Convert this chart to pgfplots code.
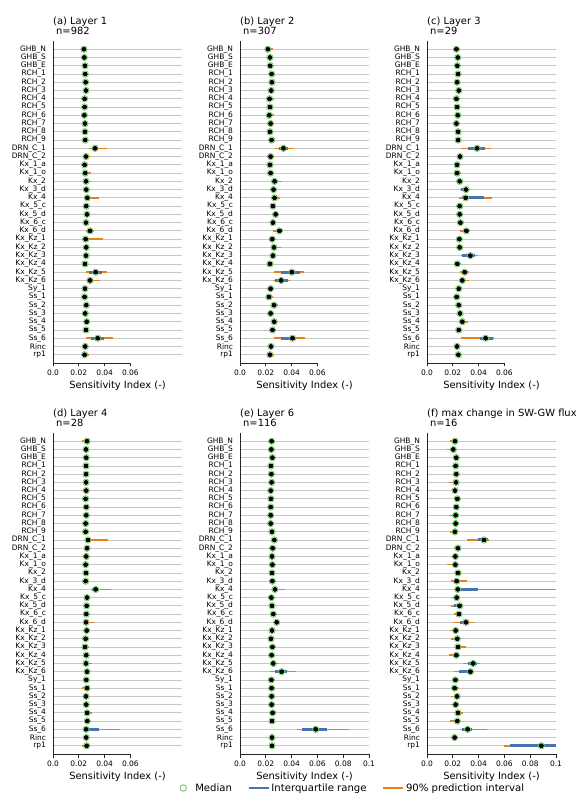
\documentclass[border=0pt]{standalone}
\usepackage{fontspec}
\setmainfont{DejaVu Sans}
\usepackage{pgfplots}
\usepackage{pgfplotstable}
\pgfplotsset{compat=1.18}
\definecolor{cOr}{RGB}{232,128,20}
\definecolor{cBl}{RGB}{72,114,176}
\definecolor{cGr}{RGB}{112,196,102}

\pgfplotstableread{
i med q25 q75 p05 p95
37 .0240 .0236 .0244 .0218 .0250
36 .0243 .0240 .0246 .0236 .0250
35 .0248 .0245 .0251 .0240 .0256
34 .0250 .0247 .0253 .0243 .0257
33 .0253 .0250 .0256 .0246 .0260
32 .0256 .0253 .0259 .0249 .0262
31 .0245 .0242 .0248 .0238 .0252
30 .0245 .0242 .0248 .0238 .0252
29 .0243 .0240 .0246 .0236 .0250
28 .0248 .0245 .0251 .0241 .0255
27 .0248 .0245 .0251 .0241 .0255
26 .0250 .0247 .0253 .0243 .0257
25 .0326 .0305 .0347 .0282 .0418
24 .0256 .0250 .0263 .0230 .0292
23 .0245 .0242 .0249 .0230 .0258
22 .0250 .0246 .0255 .0230 .0295
21 .0256 .0251 .0261 .0240 .0298
20 .0258 .0255 .0261 .0250 .0265
19 .0266 .0258 .0276 .0248 .0360
18 .0258 .0255 .0261 .0251 .0265
17 .0264 .0261 .0267 .0257 .0271
16 .0256 .0253 .0259 .0249 .0263
15 .0287 .0270 .0302 .0256 .0321
14 .0253 .0248 .0258 .0235 .0389
13 .0258 .0255 .0261 .0251 .0265
12 .0256 .0253 .0259 .0249 .0263
11 .0248 .0244 .0252 .0233 .0258
10 .0331 .0279 .0381 .0253 .0418
9 .0287 .0266 .0313 .0256 .0365
8 .0248 .0245 .0251 .0241 .0255
7 .0245 .0241 .0249 .0228 .0258
6 .0258 .0255 .0261 .0251 .0265
5 .0250 .0247 .0253 .0243 .0257
4 .0261 .0257 .0266 .0245 .0282
3 .0256 .0253 .0259 .0249 .0263
2 .0347 .0292 .0392 .0256 .0462
1 .0250 .0247 .0253 .0243 .0257
0 .0245 .0240 .0250 .0224 .0279
}\tA
\pgfplotstableread{
i med q25 q75 p05 p95
37 .0216 .0210 .0238 .0201 .0258
36 .0232 .0228 .0238 .0217 .0258
35 .0234 .0230 .0239 .0221 .0252
34 .0245 .0242 .0248 .0238 .0252
33 .0247 .0244 .0250 .0240 .0254
32 .0242 .0239 .0245 .0235 .0249
31 .0229 .0224 .0236 .0211 .0265
30 .0232 .0228 .0237 .0216 .0258
29 .0227 .0222 .0234 .0209 .0260
28 .0237 .0234 .0240 .0230 .0244
27 .0232 .0228 .0237 .0216 .0258
26 .0245 .0242 .0248 .0238 .0252
25 .0337 .0304 .0373 .0273 .0422
24 .0237 .0231 .0244 .0214 .0268
23 .0232 .0228 .0237 .0216 .0258
22 .0237 .0233 .0241 .0221 .0258
21 .0268 .0254 .0289 .0245 .0324
20 .0260 .0256 .0264 .0250 .0268
19 .0268 .0262 .0276 .0247 .0309
18 .0255 .0252 .0258 .0248 .0262
17 .0276 .0273 .0279 .0269 .0283
16 .0255 .0252 .0258 .0248 .0262
15 .0306 .0289 .0325 .0258 .0330
14 .0250 .0245 .0255 .0227 .0273
13 .0263 .0255 .0275 .0245 .0314
12 .0255 .0250 .0260 .0240 .0273
11 .0232 .0228 .0238 .0219 .0253
10 .0402 .0314 .0463 .0263 .0494
9 .0319 .0273 .0371 .0258 .0391
8 .0237 .0233 .0241 .0221 .0258
7 .0224 .0219 .0232 .0206 .0258
6 .0263 .0257 .0268 .0245 .0294
5 .0237 .0232 .0243 .0219 .0263
4 .0265 .0260 .0270 .0247 .0288
3 .0252 .0249 .0255 .0245 .0259
2 .0407 .0314 .0433 .0263 .0500
1 .0240 .0237 .0243 .0233 .0247
0 .0232 .0227 .0238 .0214 .0263
}\tB
\pgfplotstableread{
i med q25 q75 p05 p95
37 .0228 .0224 .0232 .0212 .0258
36 .0238 .0235 .0241 .0231 .0245
35 .0235 .0232 .0238 .0228 .0242
34 .0241 .0238 .0244 .0234 .0248
33 .0233 .0229 .0238 .0217 .0258
32 .0246 .0243 .0249 .0239 .0253
31 .0228 .0224 .0233 .0212 .0258
30 .0233 .0222 .0249 .0217 .0258
29 .0238 .0234 .0242 .0228 .0248
28 .0228 .0224 .0233 .0212 .0258
27 .0241 .0238 .0244 .0234 .0250
26 .0241 .0238 .0244 .0234 .0250
25 .0388 .0318 .0453 .0266 .0497
24 .0256 .0250 .0262 .0230 .0274
23 .0233 .0230 .0236 .0226 .0240
22 .0233 .0228 .0238 .0207 .0262
21 .0253 .0249 .0257 .0243 .0262
20 .0303 .0266 .0318 .0253 .0331
19 .0300 .0269 .0440 .0248 .0504
18 .0253 .0250 .0256 .0246 .0260
17 .0253 .0250 .0256 .0246 .0260
16 .0259 .0256 .0262 .0252 .0266
15 .0305 .0284 .0323 .0259 .0336
14 .0251 .0248 .0254 .0244 .0258
13 .0253 .0250 .0256 .0246 .0260
12 .0336 .0274 .0372 .0264 .0396
11 .0235 .0230 .0240 .0220 .0258
10 .0292 .0274 .0310 .0259 .0326
9 .0274 .0259 .0290 .0259 .0326
8 .0246 .0243 .0249 .0239 .0253
7 .0230 .0225 .0236 .0212 .0258
6 .0246 .0243 .0249 .0239 .0253
5 .0256 .0253 .0259 .0249 .0263
4 .0274 .0268 .0282 .0259 .0315
3 .0246 .0242 .0250 .0236 .0254
2 .0455 .0409 .0512 .0266 .0517
1 .0233 .0229 .0237 .0224 .0242
0 .0243 .0240 .0246 .0236 .0250
}\tC
\pgfplotstableread{
i med q25 q75 p05 p95
37 .0264 .0253 .0266 .0224 .0266
36 .0256 .0253 .0259 .0249 .0263
35 .0258 .0252 .0262 .0227 .0263
34 .0256 .0253 .0259 .0249 .0263
33 .0256 .0253 .0259 .0249 .0263
32 .0256 .0253 .0259 .0249 .0263
31 .0258 .0252 .0262 .0219 .0263
30 .0253 .0250 .0258 .0230 .0262
29 .0258 .0253 .0261 .0230 .0263
28 .0258 .0253 .0261 .0230 .0263
27 .0253 .0250 .0256 .0235 .0258
26 .0253 .0250 .0256 .0230 .0258
25 .0271 .0264 .0280 .0262 .0425
24 .0264 .0261 .0267 .0257 .0271
23 .0258 .0252 .0262 .0227 .0263
22 .0253 .0250 .0256 .0246 .0260
21 .0256 .0253 .0259 .0249 .0263
20 .0253 .0250 .0256 .0246 .0260
19 .0331 .0300 .0360 .0295 .0449
18 .0264 .0261 .0267 .0257 .0271
17 .0261 .0258 .0264 .0254 .0268
16 .0258 .0255 .0261 .0251 .0265
15 .0256 .0253 .0262 .0250 .0318
14 .0261 .0258 .0264 .0254 .0268
13 .0253 .0250 .0256 .0246 .0260
12 .0248 .0243 .0266 .0235 .0282
11 .0258 .0255 .0261 .0251 .0265
10 .0256 .0253 .0262 .0250 .0303
9 .0264 .0260 .0268 .0255 .0287
8 .0258 .0255 .0261 .0251 .0265
7 .0264 .0255 .0266 .0227 .0268
6 .0256 .0252 .0260 .0235 .0263
5 .0258 .0255 .0261 .0251 .0265
4 .0264 .0260 .0270 .0257 .0300
3 .0266 .0263 .0269 .0259 .0273
2 .0256 .0256 .0358 .0250 .0522
1 .0258 .0255 .0261 .0251 .0265
0 .0261 .0255 .0264 .0227 .0266
}\tD
\pgfplotstableread{
i med q25 q75 p05 p95
37 .0245 .0242 .0248 .0238 .0252
36 .0243 .0240 .0246 .0236 .0250
35 .0251 .0245 .0254 .0240 .0256
34 .0240 .0237 .0243 .0233 .0247
33 .0243 .0240 .0246 .0236 .0250
32 .0245 .0242 .0248 .0238 .0252
31 .0238 .0235 .0241 .0231 .0245
30 .0240 .0237 .0243 .0233 .0247
29 .0238 .0235 .0241 .0231 .0245
28 .0238 .0235 .0241 .0231 .0245
27 .0238 .0234 .0242 .0220 .0248
26 .0248 .0245 .0251 .0241 .0255
25 .0266 .0262 .0270 .0253 .0279
24 .0253 .0247 .0258 .0228 .0279
23 .0248 .0244 .0252 .0233 .0263
22 .0251 .0246 .0254 .0228 .0263
21 .0248 .0245 .0251 .0241 .0255
20 .0251 .0248 .0254 .0244 .0258
19 .0271 .0258 .0289 .0258 .0349
18 .0243 .0240 .0246 .0236 .0250
17 .0248 .0245 .0251 .0241 .0255
16 .0258 .0255 .0261 .0251 .0265
15 .0284 .0276 .0292 .0256 .0300
14 .0248 .0245 .0251 .0241 .0255
13 .0240 .0236 .0245 .0228 .0258
12 .0251 .0248 .0254 .0244 .0258
11 .0245 .0242 .0248 .0238 .0252
10 .0258 .0252 .0264 .0245 .0300
9 .0323 .0274 .0364 .0233 .0434
8 .0243 .0240 .0246 .0236 .0250
7 .0245 .0242 .0248 .0238 .0252
6 .0245 .0242 .0248 .0238 .0252
5 .0245 .0242 .0248 .0238 .0252
4 .0253 .0250 .0256 .0246 .0260
3 .0248 .0245 .0251 .0241 .0255
2 .0587 .0481 .0677 .0444 .0845
1 .0248 .0245 .0251 .0241 .0255
0 .0248 .0245 .0251 .0241 .0255
}\tE
\pgfplotstableread{
i med q25 q75 p05 p95
37 .0217 .0202 .0233 .0181 .0238
36 .0204 .0195 .0213 .0158 .0227
35 .0227 .0220 .0233 .0202 .0243
34 .0222 .0215 .0228 .0202 .0238
33 .0227 .0223 .0231 .0215 .0238
32 .0225 .0207 .0243 .0173 .0243
31 .0217 .0212 .0222 .0202 .0233
30 .0235 .0217 .0253 .0207 .0253
29 .0227 .0220 .0234 .0207 .0243
28 .0222 .0215 .0229 .0173 .0238
27 .0222 .0217 .0227 .0207 .0233
26 .0217 .0210 .0224 .0181 .0233
25 .0442 .0393 .0470 .0310 .0478
24 .0240 .0232 .0248 .0207 .0253
23 .0220 .0213 .0227 .0189 .0238
22 .0220 .0210 .0230 .0155 .0243
21 .0240 .0233 .0248 .0217 .0264
20 .0230 .0212 .0248 .0186 .0310
19 .0238 .0238 .0398 .0227 .1000
18 .0230 .0222 .0238 .0186 .0243
17 .0253 .0212 .0269 .0189 .0269
16 .0248 .0238 .0258 .0207 .0264
15 .0302 .0258 .0326 .0207 .0367
14 .0222 .0215 .0230 .0181 .0243
13 .0235 .0225 .0243 .0189 .0248
12 .0240 .0230 .0250 .0225 .0300
11 .0227 .0207 .0248 .0168 .0248
10 .0357 .0315 .0388 .0276 .0413
9 .0336 .0248 .0357 .0212 .0357
8 .0220 .0215 .0225 .0207 .0230
7 .0214 .0202 .0243 .0196 .0248
6 .0233 .0220 .0243 .0186 .0248
5 .0222 .0212 .0233 .0186 .0243
4 .0240 .0233 .0248 .0225 .0279
3 .0235 .0222 .0243 .0176 .0248
2 .0315 .0271 .0351 .0253 .0465
1 .0214 .0208 .0220 .0199 .0228
0 .0886 .0641 .1000 .0594 .1000
}\tF

\pgfplotsset{
  sens/.style={
    scale only axis, width=129pt, height=322pt,
    xmin=0, xmax=0.1, ymin=-1, ymax=38,
    axis x line*=bottom, axis y line*=left,
    x axis line style={draw=none},
    y axis line style={-, black!85, line width=0.9pt},
    ytick={0,...,37},
    yticklabels={rp1,Rinc,Ss\_6,Ss\_5,Ss\_4,Ss\_3,Ss\_2,Ss\_1,Sy\_1,Kx\_Kz\_6,Kx\_Kz\_5,Kx\_Kz\_4,Kx\_Kz\_3,Kx\_Kz\_2,Kx\_Kz\_1,Kx\_6\_d,Kx\_6\_c,Kx\_5\_d,Kx\_5\_c,Kx\_4,Kx\_3\_d,Kx\_2,Kx\_1\_o,Kx\_1\_a,DRN\_C\_2,DRN\_C\_1,RCH\_9,RCH\_8,RCH\_7,RCH\_6,RCH\_5,RCH\_4,RCH\_3,RCH\_2,RCH\_1,GHB\_E,GHB\_S,GHB\_N},
    ymajorgrids, major grid style={black!22, line width=0.8pt},
    ytick style={draw=none},
    tick align=outside, major tick length=3.5pt,
    xtick style={black!85, line width=0.8pt},
    tick label style={font=\fontsize{7.5}{9}\selectfont},
    /pgf/number format/assume math mode=true,
    xlabel={Sensitivity Index (-)},
    xlabel style={at={(axis description cs:0.5,0)}, anchor=north, yshift=-18pt, inner sep=0pt, font=\fontsize{9.9}{11}\selectfont},
    title style={at={(axis description cs:0,1)}, anchor=south west, align=left, inner sep=0pt, font=\fontsize{9.9}{10}\selectfont},
    clip=false,
  },
  short/.style={xtick={0,0.02,0.04,0.06}, xticklabels={0.0,0.02,0.04,0.06}},
  long/.style={xtick={0,0.02,0.04,0.06,0.08,0.1}, xticklabels={0.0,0.02,0.04,0.06,0.08,0.1}},
}

\newcommand{\panel}[2]{%
  \addplot[only marks, mark=none, forget plot,
    error bars/.cd, x dir=both, x explicit, error mark=none,
    error bar style={line width=1.6pt, cOr}]
    table[x=med, y=i, x error plus expr=\thisrow{p95}-\thisrow{med}, x error minus expr=\thisrow{med}-\thisrow{p05}] {#1};
  \addplot[only marks, mark=none, forget plot,
    error bars/.cd, x dir=both, x explicit, error mark=none,
    error bar style={line width=3pt, cBl}]
    table[x=med, y=i, x error plus expr=\thisrow{q75}-\thisrow{med}, x error minus expr=\thisrow{med}-\thisrow{q25}] {#1};
  \addplot[only marks, mark=o, mark size=3.2pt, cGr, mark options={line width=0.75pt, draw=cGr}, forget plot]
    table[x=med, y=i] {#1};
  \draw[black!85, line width=0.9pt] (axis cs:0,-1) -- (axis cs:#2,-1);
}

\begin{document}
\begin{tikzpicture}
\path[use as bounding box] (0pt,0pt) rectangle (587pt,800pt);

\begin{axis}[sens, short, at={(53pt,437pt)}, anchor=south west,
  title={(a) Layer 1\\\hspace*{3pt}n=982}]
\panel{\tA}{0.06}
\end{axis}

\begin{axis}[sens, short, at={(240pt,437pt)}, anchor=south west,
  title={(b) Layer 2\\\hspace*{3pt}n=307}]
\panel{\tB}{0.06}
\end{axis}

\begin{axis}[sens, short, at={(427pt,437pt)}, anchor=south west,
  title={(c) Layer 3\\\hspace*{3pt}n=29}]
\panel{\tC}{0.06}
\end{axis}

\begin{axis}[sens, short, at={(53pt,46pt)}, anchor=south west, height=321pt,
  title={(d) Layer 4\\\hspace*{3pt}n=28}]
\panel{\tD}{0.06}
\end{axis}

\begin{axis}[sens, long, at={(240pt,46pt)}, anchor=south west, height=321pt,
  title={(e) Layer 6\\\hspace*{3pt}n=116},
  legend columns=3,
  legend style={at={(-0.519,-0.106)}, anchor=west, draw=none, fill=none, inner sep=0pt,
    font=\fontsize{10.1}{11}\selectfont,
    nodes={inner sep=2pt},
    /tikz/every even column/.append style={column sep=14pt}}]
\addlegendimage{legend image code/.code={\path[draw=none,fill=none] (0pt,-1pt) rectangle (20pt,1pt); \draw[cGr, line width=0.9pt] (10pt,0pt) circle (3.2pt);}}
\addlegendentry{Median}
\addlegendimage{legend image code/.code={\draw[cBl, line width=1.5pt] (0pt,0pt) -- (20pt,0pt);}}
\addlegendentry{Interquartile range}
\addlegendimage{legend image code/.code={\draw[cOr, line width=1.5pt] (0pt,0pt) -- (20pt,0pt);}}
\addlegendentry{90\% prediction interval}
\panel{\tE}{0.1}
\end{axis}

\begin{axis}[sens, long, at={(427pt,46pt)}, anchor=south west, height=321pt,
  title={(f) max change in SW-GW flux\\\hspace*{3pt}n=16}]
\panel{\tF}{0.1}
\end{axis}
\end{tikzpicture}
\end{document}
